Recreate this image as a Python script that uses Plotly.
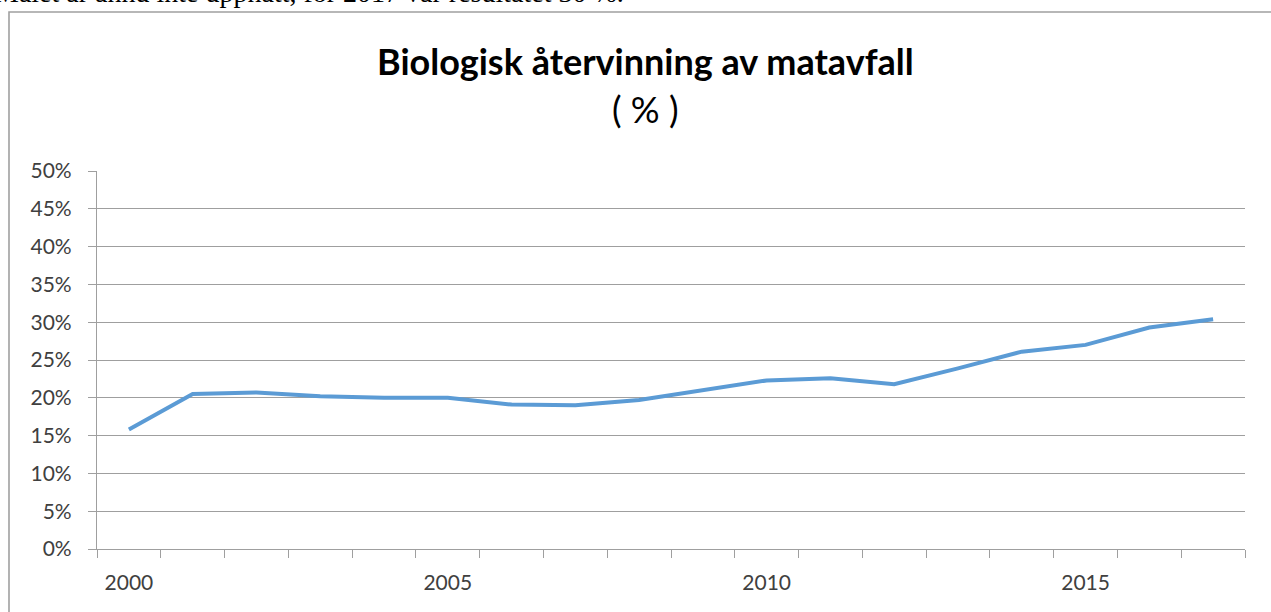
import plotly.graph_objects as go

years = list(range(2000, 2018))
values = [15.8, 20.5, 20.7, 20.2, 20.0, 20.0, 19.1, 19.0, 19.7, 21.0,
          22.3, 22.6, 21.8, 23.9, 26.1, 27.0, 29.3, 30.4]
x_tick_years = [2000, 2005, 2010, 2015]
x_tick_labels = ["2000", "2005", "2010", "2015"]
y_ticks = [0, 5, 10, 15, 20, 25, 30, 35, 40, 45, 50]
y_tick_labels = [f"{v}%" for v in y_ticks]

title_text = "Biologisk återvinning av matavfall"
subtitle_text = "( % )"
intro_text = "Målet är ännu inte uppnått, för 2017 var resultatet 30 %."

FONT = "Lato"
AXIS_GRAY = "#9f9f9f"
TEXT_GRAY = "#404040"

fig = go.Figure()
fig.add_trace(go.Scatter(
    x=years, y=values, mode="lines",
    line=dict(color="#5B9BD5", width=4),
    hoverinfo="x+y",
))

W, H = 1271, 612
L, R, T, B = 97, 26, 171, 63

fig.update_layout(
    width=W, height=H,
    margin=dict(l=L, r=R, t=T, b=B),
    paper_bgcolor="white", plot_bgcolor="white",
    showlegend=False,
    font=dict(family=FONT, color=TEXT_GRAY, size=21),
    xaxis=dict(
        range=[1999.5, 2017.5],
        tickmode="array", tickvals=x_tick_years, ticktext=x_tick_labels,
        ticks="", showgrid=False, zeroline=False,
        showline=True, linecolor=AXIS_GRAY, linewidth=1.2,
        tickfont=dict(size=21, color=TEXT_GRAY),
        ticklabelstandoff=15,
        minor=dict(ticks="outside", tick0=1999.5, dtick=1, ticklen=8,
                   tickcolor=AXIS_GRAY, tickwidth=1.2, showgrid=False),
        fixedrange=True,
    ),
    yaxis=dict(
        range=[0, 50],
        tickmode="array", tickvals=y_ticks, ticktext=y_tick_labels,
        ticks="outside", ticklen=8, tickcolor=AXIS_GRAY, tickwidth=1.2,
        showgrid=True, gridcolor=AXIS_GRAY, gridwidth=1.2,
        zeroline=False,
        showline=True, linecolor=AXIS_GRAY, linewidth=1.2,
        tickfont=dict(size=21, color=TEXT_GRAY),
        ticklabelstandoff=12,
        fixedrange=True,
    ),
)

plot_w = W - L - R
plot_h = H - T - B

def px_x(px):
    return (px - L) / plot_w

def px_y(py):
    return (H - B - py) / plot_h

# outer chart frame (extends beyond the visible right and bottom edges)
fig.add_shape(type="rect", xref="paper", yref="paper",
              x0=px_x(9), x1=px_x(1300), y0=px_y(640), y1=px_y(12),
              line=dict(color="#a0a0a0", width=1.6), fillcolor="rgba(0,0,0,0)",
              layer="below")

# title and subtitle
fig.add_annotation(xref="paper", yref="paper", x=px_x(645), y=px_y(61),
                   text=f"<b>{title_text}</b>", showarrow=False,
                   xanchor="center", yanchor="middle",
                   font=dict(family=FONT, size=36, color="black"))
fig.add_annotation(xref="paper", yref="paper", x=px_x(645), y=px_y(109),
                   text=subtitle_text, showarrow=False,
                   xanchor="center", yanchor="middle",
                   font=dict(family=FONT, size=36, color="black"))

# cut-off intro sentence from surrounding document
fig.add_annotation(xref="paper", yref="paper", x=px_x(-8), y=px_y(10),
                   text=intro_text, showarrow=False,
                   xanchor="left", yanchor="bottom",
                   font=dict(family="Liberation Serif", size=28, color="black"))

fig.write_html("out.html", config={"displayModeBar": False},
               post_script="document.body.style.margin='0';")
